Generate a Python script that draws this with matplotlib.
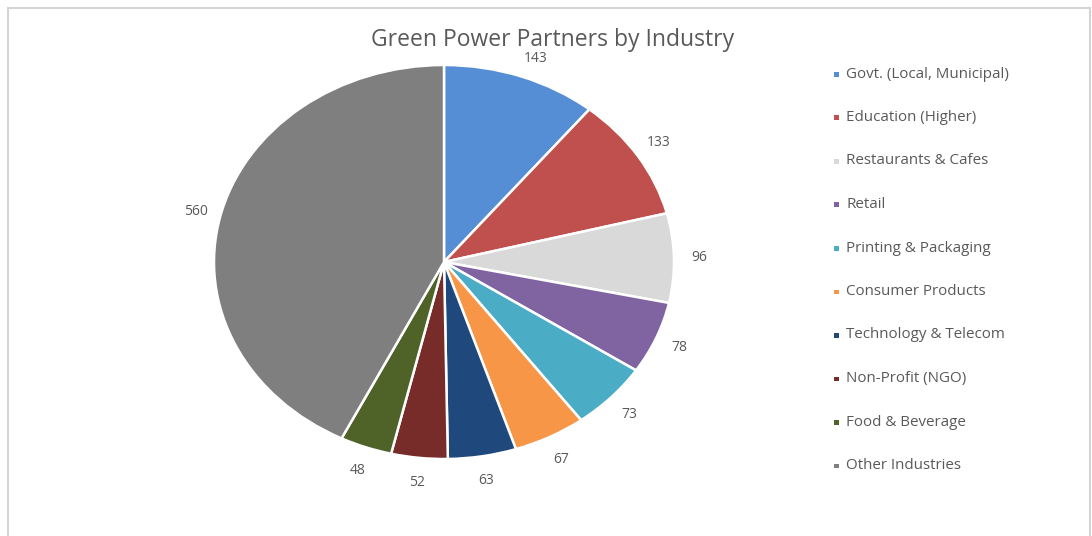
import matplotlib
matplotlib.use("Agg")
import matplotlib.pyplot as plt
from matplotlib.patches import Rectangle
import numpy as np

categories = ["Govt. (Local, Municipal)", "Education (Higher)", "Restaurants & Cafes",
              "Retail", "Printing & Packaging", "Consumer Products",
              "Technology & Telecom", "Non-Profit (NGO)", "Food & Beverage",
              "Other Industries"]
values = [143, 133, 96, 78, 73, 67, 63, 52, 48, 560]
colors = ["#558ED5", "#C0504D", "#D9D9D9", "#8064A2", "#4BACC6",
          "#F79646", "#1F497D", "#772C2A", "#4F6228", "#7F7F7F"]
title = "Green Power Partners by Industry"

plt.rcParams['font.family'] = ['Open Sans', 'DejaVu Sans']
W, H = 1092, 536
fig = plt.figure(figsize=(W / 100, H / 100), dpi=100)
fig.patch.set_facecolor("white")

# chart border
fig.add_artist(Rectangle((7.5 / W, -0.05), (1090 - 7.5) / W, (H - 8) / H + 0.05,
                         transform=fig.transFigure, fill=False,
                         edgecolor="#D4D4D4", linewidth=1.5))

cx, cy, rx, ry = 444, 262, 230, 197
ax = fig.add_axes([(cx - rx) / W, (H - cy - ry) / H, 2 * rx / W, 2 * ry / H])
wedges, _ = ax.pie(values, colors=colors, startangle=90, counterclock=False,
                   radius=1.0, wedgeprops=dict(edgecolor="white", linewidth=1.8))
ax.set_aspect("auto")
ax.set_xlim(-1, 1)
ax.set_ylim(-1, 1)
ax.axis("off")

off = 25  # pixels outside the pie edge
for w, v in zip(wedges, values):
    ang = np.deg2rad((w.theta1 + w.theta2) / 2)
    px = cx + (rx + off) * np.cos(ang)
    py = cy - (ry + off) * np.sin(ang)
    if py < 58:  # keep clear of the title
        px += (58 - py) * 1.2
        py = 58
    fig.text(px / W, 1 - py / H, str(v), ha="center", va="center",
             fontsize=10, color="#595959")

fig.text(553 / W, 1 - 40 / H, title, ha="center", va="center",
         fontsize=16.5, color="#595959")

# legend
y0, dy = 74, 43.5
for i, (lab, c) in enumerate(zip(categories, colors)):
    y = 1 - (y0 + i * dy) / H
    fig.add_artist(Rectangle((834 / W, y - 2.5 / H), 4.5 / W, 4.5 / H,
                             transform=fig.transFigure, facecolor=c,
                             edgecolor="none"))
    fig.text(846 / W, y, lab, ha="left", va="center", fontsize=10.9, color="#595959")

fig.savefig("out.png", dpi=100, facecolor="white")
